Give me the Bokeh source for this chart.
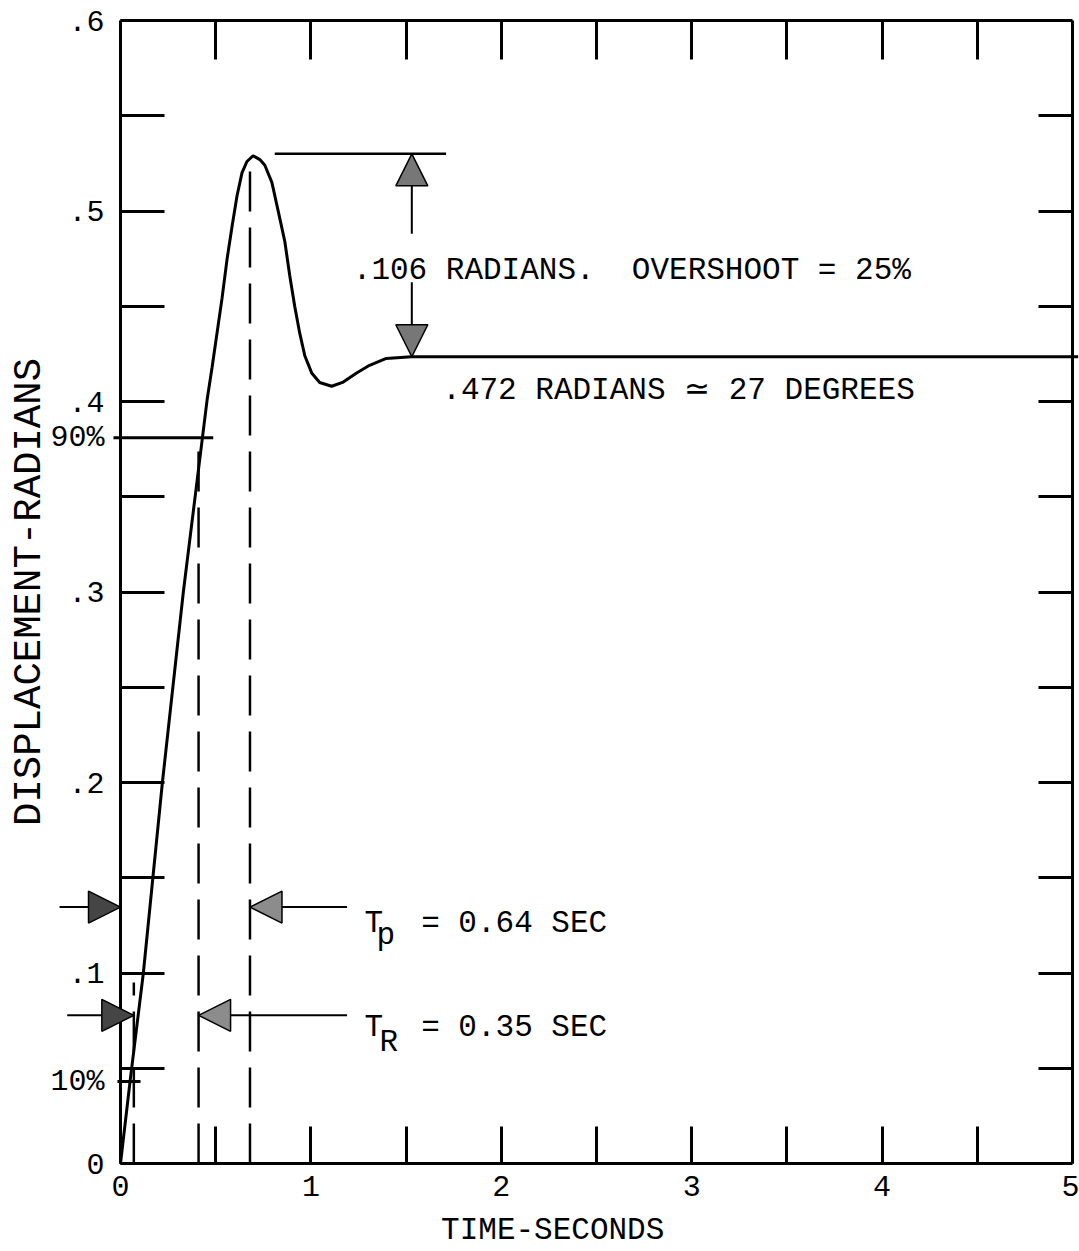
from bokeh.plotting import figure
from bokeh.models import LinearAxis, FixedTicker, Range1d, Arrow, NormalHead, Label
from bokeh.core.properties import value
from bokeh.embed import file_html
from bokeh.resources import INLINE

FONT = "Liberation Mono"

# ---- response curve ----
time_s = [0.0, 0.05, 0.12, 0.22, 0.33, 0.429, 0.455, 0.481, 0.507, 0.533, 0.560, 0.586,
          0.612, 0.638, 0.664, 0.696, 0.732, 0.758, 0.795, 0.826, 0.863, 0.889, 0.915,
          0.941, 0.968, 1.004, 1.046, 1.109, 1.166, 1.240, 1.308, 1.396, 1.527, 5.03]
disp_rad = [0.0, 0.043, 0.100, 0.200, 0.300, 0.380, 0.401, 0.418, 0.436, 0.454, 0.475, 0.492,
            0.508, 0.520, 0.526, 0.529, 0.527, 0.524, 0.515, 0.501, 0.484, 0.466, 0.450,
            0.436, 0.424, 0.415, 0.410, 0.408, 0.410, 0.415, 0.419, 0.4226, 0.4235, 0.4235]

# ---- ticks ----
x_major = [0, 1, 2, 3, 4, 5]
x_minor = [0.5, 1.5, 2.5, 3.5, 4.5]
top_ticks = [0.5, 1, 1.5, 2, 2.5, 3, 3.5, 4, 4.5]
y_major = [0, 0.1, 0.2, 0.3, 0.4, 0.5, 0.6]
y_major_labels = ["0", ".1", ".2", ".3", ".4", ".5", ".6"]
y_minor = [0.05, 0.15, 0.25, 0.35, 0.45, 0.55]
right_ticks = [0.05, 0.1, 0.15, 0.2, 0.25, 0.3, 0.35, 0.4, 0.45, 0.5, 0.55]

# ---- annotation values ----
peak_value = 0.530
steady_value = 0.4235
level_90 = 0.381
level_10 = 0.043
t_10 = 0.07
t_90 = 0.41
t_peak = 0.68
dash_tops = [0.095, 0.381, 0.525]
tp_row = 0.1346
tr_row = 0.0778
overshoot_x = 1.53
overshoot_stem_top = 0.488
overshoot_stem_bottom = 0.4626
peak_line_x = [0.81, 1.71]
line90_x = [-0.037, 0.487]
line10_x = [-0.016, 0.105]
left_arrow_start = [-0.32, -0.28]
right_arrow_start = 1.19

texts = [".106 RADIANS.\u00a0 OVERSHOOT = 25%", ".472 RADIANS \u2243 27 DEGREES"]
texts_x = [1.22, 1.69]
texts_y = [0.469, 0.406]

sym_text = ["T", "T", "= 0.64 SEC", "= 0.35 SEC"]
sym_x = [1.281, 1.281, 1.579, 1.579]
sym_y = [0.1262, 0.0715, 0.1262, 0.0715]
sub_text = ["p", "R"]
sub_x = [1.344, 1.36]
sub_y = [0.1195, 0.0636]

x_title = "TIME-SECONDS"
x_title_pos = (2.27, -0.0350)

# visible window (the plotting area fills the whole canvas; axes sit at x=0 / y=0)
x_view = (-0.6303, 5.0368)
y_view = (-0.04619, 0.6105)

p = figure(width=1079, height=1251, x_range=Range1d(*x_view), y_range=Range1d(*y_view),
           output_backend="svg", toolbar_location=None,
           x_axis_type=None, y_axis_type=None,
           min_border_left=0, min_border_right=0, min_border_top=0, min_border_bottom=0)
p.outline_line_color = None
p.background_fill_color = "white"
p.border_fill_color = "white"


def style(ax, tin_major, tin_minor):
    ax.axis_line_width = 3
    ax.axis_line_color = "black"
    ax.major_tick_line_width = 3
    ax.minor_tick_line_width = 3
    ax.major_tick_line_color = "black"
    ax.minor_tick_line_color = "black"
    ax.major_tick_in = tin_major
    ax.major_tick_out = 0
    ax.minor_tick_in = tin_minor
    ax.minor_tick_out = 0
    ax.major_label_text_font = FONT
    ax.major_label_text_font_size = "30px"
    ax.major_label_text_color = "black"
    ax.axis_label_text_font = FONT
    ax.axis_label_text_font_style = "normal"
    ax.axis_label_text_color = "black"


left = LinearAxis(ticker=FixedTicker(ticks=y_major, minor_ticks=y_minor),
                  major_label_overrides=dict(zip(y_major, y_major_labels)),
                  axis_label="DISPLACEMENT-RADIANS", fixed_location=0, bounds=(0, 0.6))
style(left, 44, 44)
left.major_label_standoff = 16
left.axis_label_standoff = 13
left.axis_label_text_font_size = "39px"
p.add_layout(left, "left")

bottom = LinearAxis(ticker=FixedTicker(ticks=x_major, minor_ticks=x_minor),
                    fixed_location=0, bounds=(0, 5))
style(bottom, 37, 37)
bottom.major_label_standoff = 12
p.add_layout(bottom, "below")

top = LinearAxis(ticker=FixedTicker(ticks=top_ticks, minor_ticks=[]), fixed_location=0.6, bounds=(0, 5))
style(top, 39, 0)
top.major_label_text_font_size = "1px"
top.major_label_text_color = None
top.major_label_standoff = 0
p.add_layout(top, "above")

right = LinearAxis(ticker=FixedTicker(ticks=right_ticks, minor_ticks=[]), fixed_location=5, bounds=(0, 0.6))
style(right, 34, 0)
right.major_label_text_font_size = "1px"
right.major_label_text_color = None
right.major_label_standoff = 0
p.add_layout(right, "right")

# response curve (flat part runs a little past the right border, as in the original)
p.line(time_s, disp_rad, line_width=3, color="black")

# dashed verticals
p.segment(x0=[t_10, t_90, t_peak], y0=[0, 0, 0], x1=[t_10, t_90, t_peak], y1=dash_tops,
          line_dash="40 16", line_width=2.5, color="black")

# peak, 90% and 10% reference lines
p.segment(x0=[peak_line_x[0], line90_x[0], line10_x[0]],
          y0=[peak_value, level_90, level_10],
          x1=[peak_line_x[1], line90_x[1], line10_x[1]],
          y1=[peak_value, level_90, level_10],
          line_width=[2.5, 3, 3], color="black")

dark = dict(size=32, fill_color="#454545", line_color="black", line_width=1.5)
light = dict(size=32, fill_color="#8c8c8c", line_color="black", line_width=1.5)
mid = dict(size=32, fill_color="#777777", line_color="black", line_width=1.5)

# overshoot arrows
p.add_layout(Arrow(end=NormalHead(**mid), x_start=overshoot_x, y_start=overshoot_stem_top,
                   x_end=overshoot_x, y_end=peak_value, line_width=2))
p.add_layout(Arrow(end=NormalHead(**mid), x_start=overshoot_x, y_start=overshoot_stem_bottom,
                   x_end=overshoot_x, y_end=steady_value, line_width=2))

# Tp arrows
p.add_layout(Arrow(end=NormalHead(**dark), x_start=left_arrow_start[0], y_start=tp_row,
                   x_end=0, y_end=tp_row, line_width=2))
p.add_layout(Arrow(end=NormalHead(**light), x_start=right_arrow_start, y_start=tp_row,
                   x_end=t_peak, y_end=tp_row, line_width=2))
# TR arrows
p.add_layout(Arrow(end=NormalHead(**dark), x_start=left_arrow_start[1], y_start=tr_row,
                   x_end=t_10, y_end=tr_row, line_width=2))
p.add_layout(Arrow(end=NormalHead(**light), x_start=right_arrow_start, y_start=tr_row,
                   x_end=t_90, y_end=tr_row, line_width=2))

# texts
p.text(x=texts_x, y=texts_y, text=texts, text_font=value(FONT), text_font_size="31px",
       text_baseline="middle", text_align="left", text_color="black")
p.text(x=sym_x, y=sym_y, text=sym_text, text_font=value(FONT), text_font_size="31px",
       text_baseline="alphabetic", text_align="left", text_color="black")
p.text(x=sub_x, y=sub_y, text=sub_text, text_font=value(FONT), text_font_size="31px",
       text_baseline="alphabetic", text_align="left", text_color="black")

# 90% / 10% labels beside the axis
for lv, lab in [(level_90, "90%"), (level_10, "10%")]:
    p.add_layout(Label(x=0, y=lv, x_offset=-16, text=lab, text_align="right", text_baseline="middle",
                       text_font=FONT, text_font_size="30px", text_color="black"))

# x-axis title
p.add_layout(Label(x=x_title_pos[0], y=x_title_pos[1], text=x_title, text_align="center",
                   text_baseline="middle", text_font=FONT, text_font_size="31px",
                   text_color="black"))

open("out.html", "w").write(file_html(p, INLINE))
